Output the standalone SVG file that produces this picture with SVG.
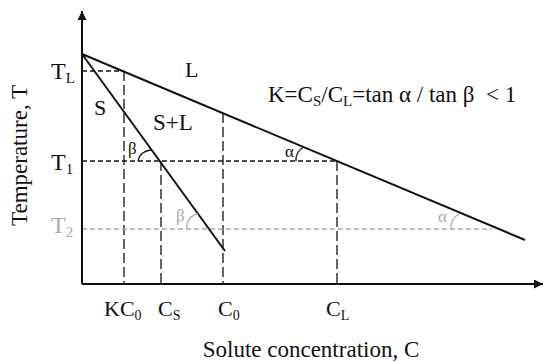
<svg xmlns="http://www.w3.org/2000/svg" width="550" height="362" viewBox="0 0 550 362">
<defs>
<style>
text{font-family:"Liberation Serif","Times New Roman",serif;fill:#111}
.ax{stroke:#111;stroke-width:2;fill:none}
.ln{stroke:#111;stroke-width:2;fill:none}
.dh{stroke:#111;stroke-width:1.3;stroke-dasharray:5 3;fill:none}
.dv{stroke:#111;stroke-width:1.3;stroke-dasharray:10 4;fill:none}
.gd{stroke:#aaa;stroke-width:1.3;stroke-dasharray:5 3;fill:none}
.arc{stroke:#111;stroke-width:1.3;fill:none}
.garc{stroke:#aaa;stroke-width:1.3;fill:none}
.g{fill:#aaa}
</style>
<marker id="ah" viewBox="0 0 10 10" refX="10" refY="5" markerWidth="10" markerHeight="9" markerUnits="userSpaceOnUse" orient="auto">
<path d="M0,0 L10,5 L0,10 z" fill="#111"/>
</marker>
</defs>
<g id="guides">
<path class="dh" d="M82,71 H124"/>
<path class="dv" d="M124,71 V284"/>
<path class="dh" d="M82,161 H337"/>
<path class="dv" d="M161,161 V284"/>
<path class="dv" d="M223,113 V284"/>
<path class="dv" d="M337,161 V284"/>
<path class="gd" d="M82,229 H492"/>
</g>
<g id="axes">
<path class="ax" d="M82,284 V11" marker-end="url(#ah)"/>
<path class="ax" d="M82,284 H543" marker-end="url(#ah)"/>
</g>
<g id="lines">
<path class="ln" d="M82,54 L525,240"/>
<path class="ln" d="M82,54 L225,251"/>
</g>
<g id="angles">
<path class="arc" d="M138,161 A14 13 0 0 1 151,150"/>
<path class="garc" d="M187,229 A13 13 0 0 1 198,214"/>
<path class="arc" d="M296,161 A14 14 0 0 1 304,147"/>
<path class="garc" d="M451,229 A15 15 0 0 1 459,214"/>
<text x="128" y="154" font-size="17">β</text>
<text x="176" y="221" font-size="17" class="g">β</text>
<text x="285" y="157" font-size="17">α</text>
<text x="438" y="222" font-size="17" class="g">α</text>
</g>
<g id="region-labels">
<text x="185" y="77" font-size="22">L</text>
<text x="94" y="115" font-size="22">S</text>
<text x="153" y="130" font-size="23">S+L</text>
</g>
<g id="formula">
<text x="268" y="102" font-size="23" xml:space="preserve">K=C<tspan font-size="15" dy="4">S</tspan><tspan dy="-4">/C</tspan><tspan font-size="15" dy="4">L</tspan><tspan dy="-4">=tan α / tan β  &lt; 1</tspan></text>
</g>
<g id="t-labels">
<text x="51" y="79" font-size="24">T<tspan font-size="15" dy="4">L</tspan></text>
<text x="51" y="170" font-size="24">T<tspan font-size="15" dy="4">1</tspan></text>
<text x="51" y="233" font-size="24" class="g">T<tspan font-size="15" dy="4">2</tspan></text>
</g>
<g id="c-labels">
<text x="104" y="316" font-size="22">KC<tspan font-size="14" dy="4">0</tspan></text>
<text x="158" y="316" font-size="22">C<tspan font-size="14" dy="4">S</tspan></text>
<text x="218" y="316" font-size="22">C<tspan font-size="14" dy="4">0</tspan></text>
<text x="326" y="316" font-size="22">C<tspan font-size="14" dy="4">L</tspan></text>
</g>
<g id="axis-titles">
<text x="311" y="357" font-size="23" text-anchor="middle">Solute concentration, C</text>
<text transform="translate(27,155.5) rotate(-90)" font-size="23" text-anchor="middle">Temperature, T</text>
</g>
</svg>
